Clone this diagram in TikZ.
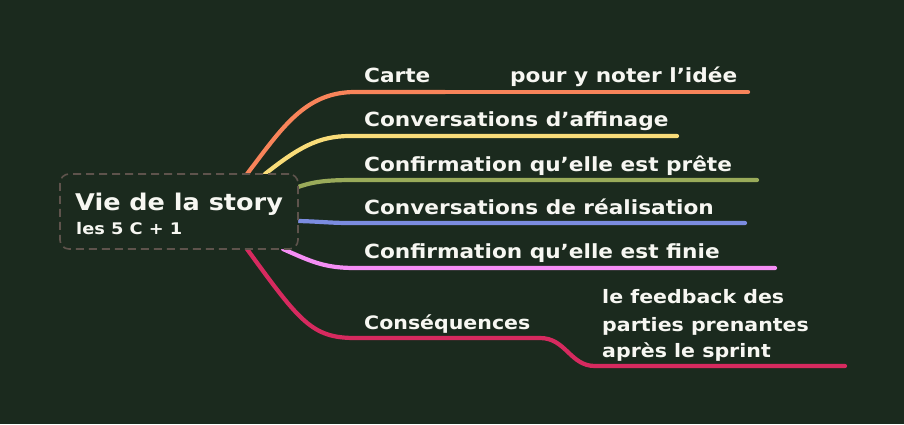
\documentclass[tikz,border=0pt]{standalone}
\usepackage{fontspec}
\setmainfont{DejaVu Sans}
\newfontfamily\hand{DejaVu Sans Bold}[FakeStretch=1.11]
\begin{document}
\begin{tikzpicture}[x=1pt,y=-1pt,
  branch/.style={line width=4.2pt,line cap=round},
  lbl/.style={anchor=base west,inner sep=0pt,text=txt,font=\hand\fontsize{19.5}{23}\selectfont},
  root/.style={draw=rootborder,dashed,dash pattern=on 8pt off 5pt,line width=1.6pt,rounded corners=9pt,minimum width=238pt,minimum height=75pt,inner sep=0pt}
]
\definecolor{bg}{HTML}{1B2A1E}
\definecolor{txt}{HTML}{F7F7F2}
\definecolor{rootborder}{HTML}{5E534C}
\definecolor{corange}{HTML}{F8845A}
\definecolor{cyellow}{HTML}{F9DC79}
\definecolor{colive}{HTML}{9AAB5A}
\definecolor{cblue}{HTML}{7B8CE0}
\definecolor{cpink}{HTML}{F58EF5}
\definecolor{ccrimson}{HTML}{D62A5F}
\fill[bg] (0,0) rectangle (904,424);
\useasboundingbox (0,0) rectangle (904,424);

% branch coordinates
\coordinate (o0) at (247,174); \coordinate (o1) at (355,92); \coordinate (o2) at (445,92); \coordinate (o3) at (748,92);
\coordinate (y0) at (265,174); \coordinate (y1) at (350,136); \coordinate (y2) at (677,136);
\coordinate (g0) at (298,187); \coordinate (g1) at (355,180); \coordinate (g2) at (757,180);
\coordinate (b0) at (298,221); \coordinate (b1) at (350,223); \coordinate (b2) at (745,223);
\coordinate (p0) at (283,249); \coordinate (p1) at (355,268); \coordinate (p2) at (775,268);
\coordinate (c0) at (247,249); \coordinate (c1) at (355,338); \coordinate (c2) at (540,338); \coordinate (c3) at (595,366); \coordinate (c4) at (845,366);

\draw[branch,corange] (o0) .. controls (282,128) and (305,92) .. (o1) -- (o2);
\draw[branch,corange] (o2) -- (o3);
\draw[branch,cyellow] (y0) .. controls (298,148) and (318,136) .. (y1) -- (y2);
\draw[branch,colive] (g0) .. controls (315,181) and (330,180) .. (g1) -- (g2);
\draw[branch,cblue] (b0) .. controls (320,221.5) and (330,223) .. (b1) -- (b2);
\draw[branch,cpink] (p0) .. controls (312,262) and (325,268) .. (p1) -- (p2);
\draw[branch,ccrimson] (c0) .. controls (300,322) and (312,338) .. (c1) -- (c2) .. controls (566,338) and (570,366) .. (c3) -- (c4);

% root node
\node[root,fill=bg] (root) at (179,211.5) {};
\node[anchor=base west,inner sep=0pt,text=txt,font=\hand\fontsize{23}{27}\selectfont] (rt) at (75,210) {Vie de la story};
\node[anchor=base west,inner sep=0pt,text=txt,font=\hand\fontsize{16}{19}\selectfont] (rs) at (76,234) {les 5 C + 1};

% labels
\node[lbl] (l1) at (364,82) {Carte};
\node[lbl] (l1b) at (510,82) {pour y noter l’idée};
\node[lbl] (l2) at (364,126) {Conversations d’affinage};
\node[lbl] (l3) at (364,171) {Confirmation qu’elle est prête};
\node[lbl] (l4) at (364,214) {Conversations de réalisation};
\node[lbl] (l5) at (364,258) {Confirmation qu’elle est finie};
\node[lbl,font=\hand\fontsize{18.5}{22}\selectfont] (l6) at (364,329) {Conséquences};
\node[lbl,font=\hand\fontsize{18.5}{22}\selectfont] (l6a) at (602,303) {le feedback des};
\node[lbl,font=\hand\fontsize{18.5}{22}\selectfont] (l6b) at (602,331) {parties prenantes};
\node[lbl,font=\hand\fontsize{18.5}{22}\selectfont] (l6c) at (602,357) {après le sprint};
\end{tikzpicture}
\end{document}
